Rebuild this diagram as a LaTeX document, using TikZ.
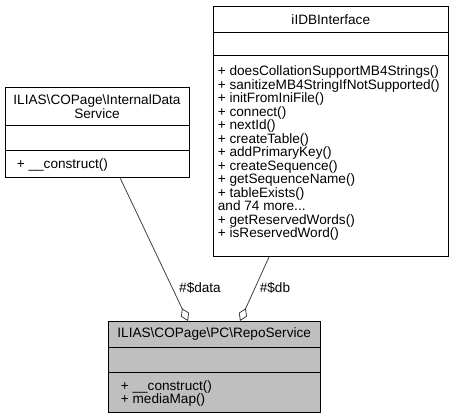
\documentclass[tikz,border=0pt]{standalone}
\usepackage{fontspec}
\setmainfont{Liberation Sans}
\usetikzlibrary{arrows.meta,calc}
\definecolor{boxgray}{RGB}{191,191,191}
\definecolor{edgegray}{RGB}{64,64,64}
\newcommand{\andmoretext}{and 74 more...}
\begin{document}
\begin{tikzpicture}[x=1pt,y=-1pt,
  box/.style={draw=black, line width=1pt, fill=white, inner sep=0pt, anchor=north west},
  sep/.style={draw=black, line width=1pt},
  txt/.style={inner sep=0pt, font=\fontsize{13.6}{13.5}\selectfont},
  edge/.style={draw=edgegray, line width=0.8pt, -{Diamond[open,length=14pt,width=9pt]}},
]
\useasboundingbox (0,0) rectangle (455,419);

% left class
\node[box, minimum width=184.6pt, minimum height=89.4pt] (ids) at (4.7,87.3) {};
\draw[sep] (4.7,125.7) -- (189.3,125.7);
\draw[sep] (4.7,151) -- (189.3,151);
\node[txt, align=center] (idsT) at (97,106.5) {ILIAS\textbackslash COPage\textbackslash InternalData\\Service};
\node[txt, anchor=base west] (idsM) at (16.7,168.9) {+ \_\_construct()};

% right class
\node[box, minimum width=235pt, minimum height=250pt] (db) at (213.3,6) {};
\draw[sep] (213.3,32.3) -- (448.3,32.3);
\draw[sep] (213.3,56) -- (448.3,56);
\node[txt] (dbT) at (330.8,19.2) {iIDBInterface};
\foreach \t [count=\i from 0] in {+ doesCollationSupportMB4Strings(),+ sanitizeMB4StringIfNotSupported(),+ initFromIniFile(),+ connect(),+ nextId(),+ createTable(),+ addPrimaryKey(),+ createSequence(),+ getSequenceName(),+ tableExists(),\andmoretext,+ getReservedWords(),+ isReservedWord()}
  \node[txt, anchor=base west] (dbm\i) at (217.7,75.6+13.5*\i) {\t};

% bottom class
\node[box, fill=boxgray, minimum width=211.7pt, minimum height=91.3pt] (repo) at (108.3,321) {};
\draw[sep] (108.3,347.3) -- (320,347.3);
\draw[sep] (108.3,372.3) -- (320,372.3);
\node[txt] (repoT) at (214.2,334.2) {ILIAS\textbackslash COPage\textbackslash PC\textbackslash RepoService};
\node[txt, anchor=base west] (repoM1) at (120.7,390.2) {+ \_\_construct()};
\node[txt, anchor=base west] (repoM2) at (120.7,403.7) {+ mediaMap()};

% edges
\draw[edge] ([xshift=115.3pt]ids.south west) -- ([xshift=79.7pt]repo.north west);
\draw[edge] ([xshift=55.7pt]db.south west) -- ([xshift=131.7pt]repo.north west);
\node[txt] (ldata) at (200,288) {\#\$data};
\node[txt] (ldb) at (275,288) {\#\$db};
\end{tikzpicture}
\end{document}
